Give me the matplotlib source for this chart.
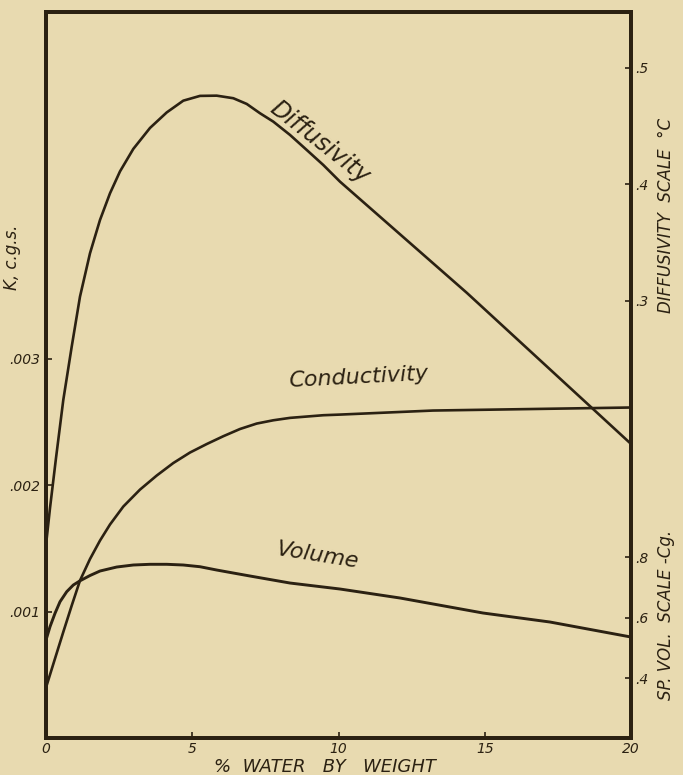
import numpy as np
import matplotlib
matplotlib.use('Agg')
import matplotlib.pyplot as plt

water_diff = [0.0, 0.137, 0.342, 0.591, 0.879, 1.162, 1.504, 1.846, 2.188, 2.530, 2.985,
              3.556, 4.127, 4.694, 5.265, 5.836, 6.403, 6.862, 7.316, 7.771, 8.342,
              8.913, 9.480, 10.051, 14.39, 20.0]
diffusivity = [0.0906, 0.1223, 0.1652, 0.2150, 0.2608, 0.3037, 0.3409, 0.3695, 0.3924,
               0.4112, 0.4305, 0.4485, 0.4618, 0.4719, 0.4760, 0.4762, 0.4740, 0.4691,
               0.4611, 0.4539, 0.4425, 0.4296, 0.4167, 0.4024, 0.3069, 0.1773]

water_cond = [0.0, 0.308, 0.591, 0.879, 1.162, 1.504, 1.846, 2.188, 2.643, 3.214, 3.785,
              4.352, 4.923, 5.494, 6.062, 6.632, 7.203, 7.771, 8.342, 9.480, 10.051,
              13.23, 20.0]
conductivity = [0.000399, 0.000628, 0.000838, 0.001047, 0.001245, 0.001415, 0.001561,
                 0.001688, 0.001830, 0.001964, 0.002075, 0.002174, 0.002257, 0.002324,
                 0.002386, 0.002443, 0.002486, 0.002512, 0.002531, 0.002552, 0.002557,
                 0.002589, 0.002613]

water_vol = [0.0, 0.137, 0.308, 0.479, 0.708, 0.933, 1.162, 1.504, 1.846, 2.417, 2.985,
             3.556, 4.127, 4.694, 5.265, 5.836, 6.403, 6.974, 8.342, 10.051, 12.103,
             14.94, 17.23, 20.0]
volume = [0.5256, 0.5696, 0.6139, 0.6522, 0.6853, 0.7074, 0.7213, 0.7388, 0.7537, 0.7669,
          0.7736, 0.7759, 0.7759, 0.7736, 0.7679, 0.7570, 0.7471, 0.7372, 0.7140, 0.6942,
          0.6645, 0.6149, 0.5851, 0.5355]

x_ticks = [0, 5, 10, 15, 20]
x_labels = ['0', '5', '10', '15', '20']
k_ticks = [0.001, 0.002, 0.003]
k_labels = ['.001', '.002', '.003']
d_ticks = [0.3, 0.4, 0.5]
d_labels = ['.3', '.4', '.5']
v_ticks = [0.4, 0.6, 0.8]
v_labels = ['.4', '.6', '.8']

PAPER = '#e8dab0'
INK = '#2b2112'

plt.rcParams['font.family'] = ['DejaVu Sans']
plt.rcParams['font.style'] = 'italic'

fig = plt.figure(figsize=(6.83, 7.75), dpi=100, facecolor=PAPER)
ax = fig.add_axes([46 / 683, 37 / 775, 585 / 683, 726 / 775])
ax.set_facecolor(PAPER)
ax_d = ax.twinx()
ax_v = ax.twinx()

# drei Skalen auf einer Zeichenflaeche
ax.set_xlim(0, 20)
ax.set_ylim(0, 0.00574)
ax_d.set_ylim(-0.0751, 0.548)
ax_v.set_ylim(0.2017, 2.6017)

ax.plot(water_cond, conductivity, color=INK, lw=1.9, solid_joinstyle='round',
        solid_capstyle='round')
ax_d.plot(water_diff, diffusivity, color=INK, lw=1.9, solid_joinstyle='round',
          solid_capstyle='round')
ax_v.plot(water_vol, volume, color=INK, lw=2.1, solid_joinstyle='round',
          solid_capstyle='round')

for a in (ax, ax_d, ax_v):
    for s in a.spines.values():
        s.set_color(INK)
        s.set_linewidth(2.6)

ax.set_xticks(x_ticks)
ax.set_xticklabels(x_labels)
ax.set_yticks(k_ticks)
ax.set_yticklabels(k_labels)
ax.tick_params(direction='in', length=4, width=1.2, color=INK, labelcolor=INK,
               labelsize=10, pad=4)
ax.tick_params(axis='x', pad=3)

ax_d.set_yticks(d_ticks)
ax_d.set_yticklabels(d_labels)
ax_v.set_yticks(v_ticks)
ax_v.set_yticklabels(v_labels)
for a in (ax_d, ax_v):
    a.tick_params(direction='in', length=4, width=1.2, color=INK, labelcolor=INK,
                  labelsize=10, pad=3)

# Achsentitel
fig.text(12 / 683, 1 - 257 / 775, 'K, c.g.s.', rotation=90, ha='center', va='center',
         fontsize=12, color=INK)
fig.text(325 / 683, 1 - 767 / 775, '%  WATER   BY   WEIGHT', ha='center', va='center',
         fontsize=13, color=INK)
fig.text(666 / 683, 1 - 215 / 775, 'DIFFUSIVITY  SCALE  °C', rotation=90, ha='center',
         va='center', fontsize=12, color=INK)
fig.text(666 / 683, 1 - 615 / 775, 'SP. VOL.  SCALE -Cg.', rotation=90, ha='center',
         va='center', fontsize=12, color=INK)

# Kurvenbeschriftungen
fig.text(320 / 683, 1 - 142 / 775, 'Diffusivity', rotation=-38, ha='center', va='center',
         fontsize=17, color=INK, rotation_mode='anchor')
fig.text(358 / 683, 1 - 377 / 775, 'Conductivity', rotation=3, ha='center', va='center',
         fontsize=16, color=INK, rotation_mode='anchor')
fig.text(317 / 683, 1 - 556 / 775, 'Volume', rotation=-9, ha='center', va='center',
         fontsize=16, color=INK, rotation_mode='anchor')

fig.savefig('out.png', dpi=100, facecolor=PAPER)
